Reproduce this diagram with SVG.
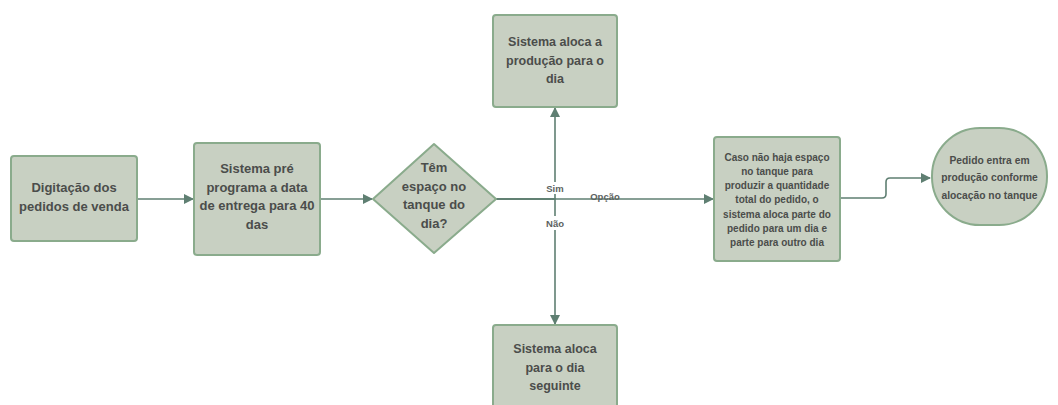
<svg xmlns="http://www.w3.org/2000/svg" width="1058" height="405" viewBox="0 0 1058 405">
<style>
.n{fill:#c8d0c2;stroke:#8aab8c;stroke-width:2}
.t{font-family:"Liberation Sans",Arial,sans-serif;font-weight:bold;fill:#4b4d4b;text-anchor:middle}
.c{fill:none;stroke:#5f7f72;stroke-width:1.6}
.l{font-family:"Liberation Sans",Arial,sans-serif;font-weight:bold;fill:#5c6260;text-anchor:middle;font-size:9.5px}
</style>
<defs>
<marker id="a" markerWidth="10" markerHeight="10" refX="9" refY="5" orient="auto" markerUnits="userSpaceOnUse">
<path d="M0,0 L10,5 L0,10 Z" fill="#5f7f72"/>
</marker>
</defs>
<rect width="1058" height="405" fill="#ffffff"/>
<g id="connectors">
<path class="c" d="M137,199 L193,199" marker-end="url(#a)"/>
<path class="c" d="M320,199 L372,199" marker-end="url(#a)"/>
<path class="c" d="M496,199 L555,199 L555,108" marker-end="url(#a)"/>
<path class="c" d="M496,199 L555,199 L555,324" marker-end="url(#a)"/>
<path class="c" d="M496,199 L713,199" marker-end="url(#a)"/>
<path class="c" d="M840,198 L882,198 Q886,198 886,194 L886,182 Q886,178 890,178 L930,178" marker-end="url(#a)"/>
<rect x="543" y="182" width="24" height="12" fill="#ffffff"/>
<text class="l" x="555" y="192">Sim</text>
<rect x="542" y="216" width="26" height="14" fill="#ffffff"/>
<text class="l" x="555" y="227">Não</text>
<text class="l" x="605" y="200">Opção</text>
</g>
<g id="n1">
<rect class="n" x="11" y="156" width="126" height="85" rx="3"/>
<text class="t" font-size="13" x="74" y="192">Digitação dos</text>
<text class="t" font-size="13" x="74" y="211">pedidos de venda</text>
</g>
<g id="n2">
<rect class="n" x="194" y="143" width="126" height="112" rx="3"/>
<text class="t" font-size="13" x="257" y="173">Sistema pré</text>
<text class="t" font-size="13" x="257" y="191.5">programa a data</text>
<text class="t" font-size="13" x="257" y="210">de entrega para 40</text>
<text class="t" font-size="13" x="257" y="228.5">das</text>
</g>
<g id="n3">
<path class="n" d="M434,144 L496,199 L434,253 L373,199 Z" stroke-linejoin="round"/>
<text class="t" font-size="13" x="434" y="172">Têm</text>
<text class="t" font-size="13" x="434" y="190.5">espaço no</text>
<text class="t" font-size="13" x="434" y="209">tanque do</text>
<text class="t" font-size="13" x="434" y="227.5">dia?</text>
</g>
<g id="n4">
<rect class="n" x="493" y="15" width="124" height="92" rx="3"/>
<text class="t" font-size="12.5" x="555" y="46">Sistema aloca a</text>
<text class="t" font-size="12.5" x="555" y="64.5">produção para o</text>
<text class="t" font-size="12.5" x="555" y="83">dia</text>
</g>
<g id="n5">
<rect class="n" x="493" y="325" width="124" height="92" rx="3"/>
<text class="t" font-size="12.5" x="555" y="353">Sistema aloca</text>
<text class="t" font-size="12.5" x="555" y="371.5">para o dia</text>
<text class="t" font-size="12.5" x="555" y="390">seguinte</text>
</g>
<g id="n6">
<rect class="n" x="714" y="137" width="126" height="124" rx="3"/>
<text class="t" font-size="10" x="777" y="160.5">Caso não haja espaço</text>
<text class="t" font-size="10" x="777" y="174.8">no tanque para</text>
<text class="t" font-size="10" x="777" y="189.1">produzir a quantidade</text>
<text class="t" font-size="10" x="777" y="203.4">total do pedido, o</text>
<text class="t" font-size="10" x="777" y="217.7">sistema aloca parte do</text>
<text class="t" font-size="10" x="777" y="232">pedido para um dia e</text>
<text class="t" font-size="10" x="777" y="246.3">parte para outro dia</text>
</g>
<g id="n7">
<rect class="n" x="932" y="128" width="115" height="97" rx="48"/>
<text class="t" font-size="10.3" x="989.5" y="163.5">Pedido entra em</text>
<text class="t" font-size="10.3" x="989.5" y="181">produção conforme</text>
<text class="t" font-size="10.3" x="989.5" y="198.5">alocação no tanque</text>
</g>
</svg>
